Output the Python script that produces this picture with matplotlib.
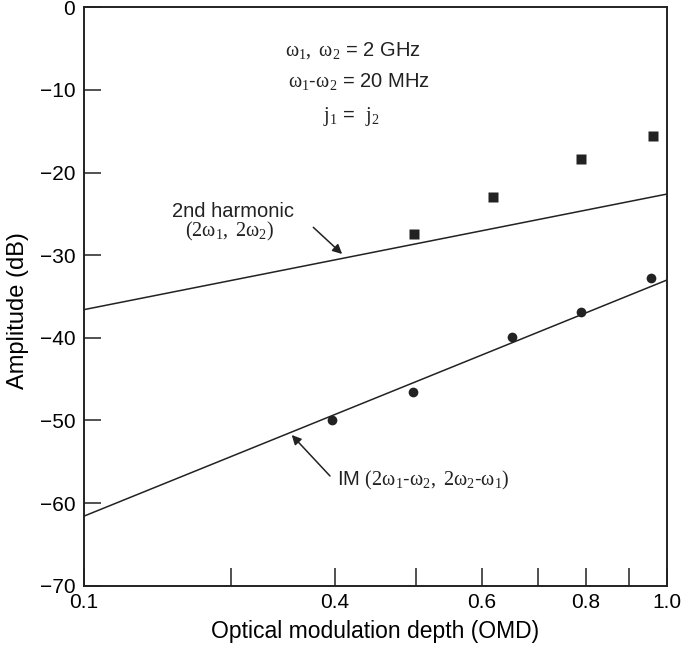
import numpy as np
import matplotlib
matplotlib.use("Agg")
import matplotlib.pyplot as plt

plt.rcParams["font.family"] = ["Liberation Sans", "DejaVu Sans"]
plt.rcParams["mathtext.fontset"] = "custom"
plt.rcParams["mathtext.rm"] = "Liberation Serif"
plt.rcParams["mathtext.it"] = "Liberation Serif:italic"
plt.rcParams["mathtext.bf"] = "Liberation Serif:bold"

INK = "#222222"

# data (OMD on log axis, amplitude in dB)
im_omd = [0.397, 0.496, 0.652, 0.788, 0.958]
im_db = [-50.0, -46.5, -39.9, -36.9, -32.7]

h2_omd = [0.497, 0.618, 0.788, 0.962]
h2_db = [-27.4, -22.9, -18.4, -15.6]

# fitted lines (end points)
line_omd = [0.2, 1.0]
im_line_db = [-61.6, -33.0]
h2_line_db = [-36.6, -22.6]

xtick_pos = [0.2, 0.4, 0.6, 0.8, 1.0]
xtick_lab = ["0.1", "0.4", "0.6", "0.8", "1.0"]
xminor_pos = [0.3, 0.5, 0.7, 0.9]
ytick_pos = [0, -10, -20, -30, -40, -50, -60, -70]

fig = plt.figure(figsize=(6.83, 6.45), dpi=100)
ax = fig.add_axes([0.1223, 0.0919, 0.8543, 0.8968])

ax.plot(line_omd, h2_line_db, color=INK, lw=1.1)
ax.plot(line_omd, im_line_db, color=INK, lw=1.1)
ax.plot(h2_omd, h2_db, "s", color=INK, ms=6.5, mec="none")
ax.plot(im_omd, im_db, "o", color=INK, ms=7, mec="none")

ax.set_xscale("log")
ax.set_xlim(0.2, 1.0)
ax.set_ylim(-70, 0)
ax.set_xticks(xtick_pos)
ax.set_xticklabels(xtick_lab)
ax.set_xticks(xminor_pos, minor=True)
ax.set_xticklabels([], minor=True)
ax.set_yticks(ytick_pos)

ax.tick_params(axis="x", which="both", direction="in", length=13, width=1.1,
               color=INK, labelsize=15, pad=5, top=False)
ax.tick_params(axis="y", direction="in", length=12, width=1.1, color=INK,
               labelsize=15, pad=6, right=False)
for s in ax.spines.values():
    s.set_linewidth(1.4)
    s.set_color(INK)

ax.set_xlabel("Optical modulation depth (OMD)", fontsize=16.5, labelpad=6)
ax.set_ylabel("Amplitude (dB)", fontsize=17)
ax.yaxis.set_label_coords(-0.093, 0.475)

w = r"\mathrm{\omega}"
fs = 14.5
ax.text(0.3453, 0.9249, rf"${w}_1,\ {w}_2$ = 2 GHz", transform=ax.transAxes,
        fontsize=fs, va="center", ha="left", color=INK)
ax.text(0.3505, 0.8713, rf"${w}_1$-${w}_2$ = 20 MHz", transform=ax.transAxes,
        fontsize=fs, va="center", ha="left", color=INK)
ax.text(0.4105, 0.8108, r"$\mathrm{j}_1$ =  $\mathrm{j}_2$", transform=ax.transAxes,
        fontsize=fs, va="center", ha="left", color=INK)

ax.text(0.1512, 0.6466, "2nd harmonic", transform=ax.transAxes,
        fontsize=fs, va="center", ha="left", color=INK)
ax.text(0.1740, 0.6120, rf"$(2{w}_1,\ 2{w}_2)$", transform=ax.transAxes,
        fontsize=fs, va="center", ha="left", color=INK)
ax.text(0.4339, 0.1823, rf"IM $(2{w}_1$-${w}_2,\ 2{w}_2$-${w}_1)$",
        transform=ax.transAxes, fontsize=fs, va="center", ha="left", color=INK)

arrow = dict(arrowstyle="-|>", mutation_scale=14, lw=1.1, color=INK,
             shrinkA=0, shrinkB=0)
ax.annotate("", xy=(0.4432, 0.5735), xytext=(0.3938, 0.6196),
            xycoords="axes fraction", arrowprops=arrow)
ax.annotate("", xy=(0.3568, 0.2606), xytext=(0.4224, 0.1897),
            xycoords="axes fraction", arrowprops=arrow)

fig.savefig("out.png", dpi=100)
